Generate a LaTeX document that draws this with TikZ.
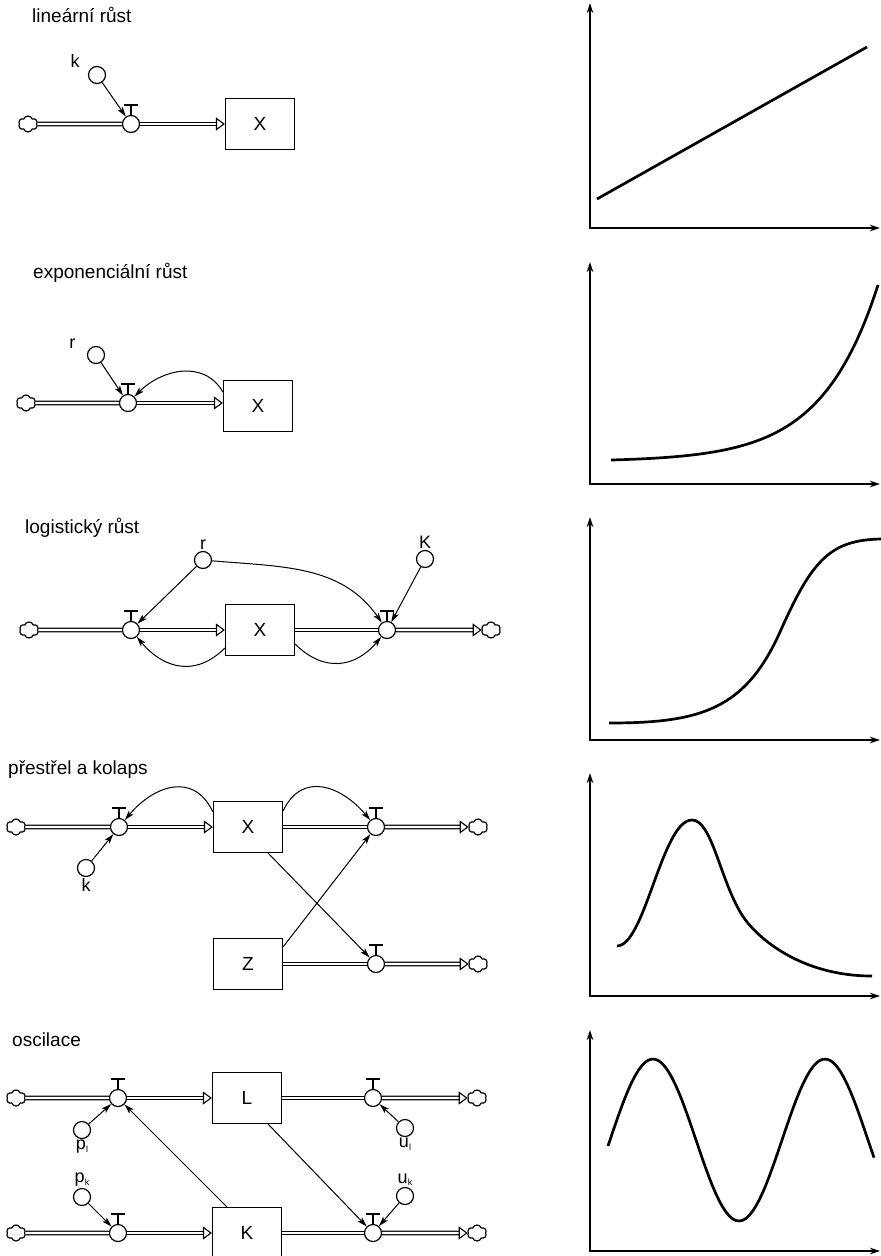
\documentclass[tikz,border=0pt]{standalone}
\usepackage{fontspec}
\setmainfont{Liberation Sans}
\usetikzlibrary{arrows.meta,shapes.symbols}

\tikzset{
  stock/.style={draw,line width=1.2pt,minimum width=69pt,minimum height=51pt,inner sep=0pt,font=\fontsize{19}{21}\selectfont},
  valve/.style={circle,draw,line width=1.2pt,fill=white,minimum size=17pt,inner sep=0pt},
  param/.style={circle,draw,line width=1.2pt,minimum size=17pt,inner sep=0pt,label distance=0pt},
  lab/.style={inner sep=1pt,font=\fontsize{18}{20}\selectfont},
  sky/.style={cloud,cloud puffs=6,cloud puff arc=140,draw,line width=1.2pt,minimum width=19pt,minimum height=16pt,inner sep=0pt},
  pipe/.style={double,double distance=2.4pt,line width=1.1pt},
  pipeto/.style={pipe,-{Triangle[open,length=9pt,width=13pt,line width=1.1pt]}},
  info/.style={line width=1pt,-{Stealth[length=10pt,width=6pt,inset=2.5pt]}},
  heading/.style={anchor=base west,inner sep=0pt,font=\fontsize{19}{21}\selectfont},
  axes/.style={line width=1.2pt,{Stealth[length=10pt,width=6.5pt]}-{Stealth[length=10pt,width=6.5pt]}},
  trend/.style={line width=2.7pt},
}
\newcommand{\sub}[1]{\raisebox{-2.5pt}{\fontsize{9}{9}\selectfont #1}}

\begin{document}
\begin{tikzpicture}[x=1pt,y=-1pt]
\useasboundingbox (0,0) rectangle (881,1256);

% linearni rust
\node[heading] (t1) at (32,22) {lineární růst};
\node[sky] (c11) at (28,124) {};
\node[valve] (v11) at (131,124) {};
\node[stock] (X1) at (260,124) {X};
\node[param,label={[lab,label distance=8pt]160:k}] (k1) at (97,75) {};
\draw[pipe] (c11) -- (v11);
\draw[pipeto] (v11) -- (X1);
\draw[info] (k1) -- (v11);

% exponencialni rust
\node[heading] (t2) at (33,278) {exponenciální růst};
\node[sky] (c21) at (26,403) {};
\node[valve] (v21) at (128,403) {};
\node[stock] (X2) at (258,406) {X};
\node[param,label={[lab,label distance=11pt]165:r}] (r2) at (96,355) {};
\draw[pipe] (c21) -- (v21);
\draw[pipeto] (v21) -- (v21 -| X2.west);
\draw[info] (r2) -- (v21);
\draw[info] ([yshift=14pt]X2.west) to[out=120,in=45,looseness=1.1] (v21);

% logisticky rust
\node[heading] (t3) at (25,533) {logistický růst};
\node[sky] (c31) at (29,630) {};
\node[valve] (v31) at (131,630) {};
\node[stock] (X3) at (260,630) {X};
\node[valve] (v32) at (387,630) {};
\node[sky] (c32) at (491,630) {};
\node[param,label={[lab]above:r}] (r3) at (203,560) {};
\node[param,label={[lab]above:K}] (K3) at (425,559) {};
\draw[pipe] (c31) -- (v31);
\draw[pipeto] (v31) -- (X3);
\draw[pipe] (X3) -- (v32);
\draw[pipeto] (v32) -- (c32);
\draw[info] (r3) -- (v31);
\draw[info] (r3) to[out=-5,in=125] (v32);
\draw[info] (K3) -- (v32);
\draw[info] ([yshift=-18pt]X3.west) to[out=-135,in=-50,looseness=1.2] (v31);
\draw[info] ([yshift=-14pt]X3.east) to[out=-45,in=-130,looseness=1.2] (v32);

% prestrel a kolaps
\node[heading] (t4) at (8,774) {přestřel a kolaps};
\node[sky] (c41) at (16,827) {};
\node[valve] (v41) at (119,827) {};
\node[stock] (X4) at (248,827) {X};
\node[valve] (v42) at (376,827) {};
\node[sky] (c42) at (478,827) {};
\node[param,label={[lab]below:k}] (k4) at (86,868) {};
\node[stock] (Z4) at (248,964) {Z};
\node[valve] (v43) at (376,964) {};
\node[sky] (c43) at (478,964) {};
\draw[pipe] (c41) -- (v41);
\draw[pipeto] (v41) -- (X4);
\draw[pipe] (X4) -- (v42);
\draw[pipeto] (v42) -- (c42);
\draw[pipe] (Z4) -- (v43);
\draw[pipeto] (v43) -- (c43);
\draw[info] (k4) -- (v41);
\draw[info] ([yshift=15pt]X4.west) to[out=115,in=50,looseness=1.3] (v41);
\draw[info] ([yshift=16pt]X4.east) to[out=65,in=130,looseness=1.3] (v42);
\draw[info] ([xshift=-15pt]X4.south east) -- (v43);
\draw[info] ([yshift=-9pt]Z4.north east) -- (v42);

% oscilace
\node[heading] (t5) at (12,1046) {oscilace};
\node[sky] (c51) at (16,1098) {};
\node[valve] (v51) at (118,1098) {};
\node[stock] (L5) at (247,1098) {L};
\node[valve] (v52) at (373,1098) {};
\node[sky] (c52) at (477,1098) {};
\node[sky] (c53) at (16,1233) {};
\node[valve] (v53) at (118,1233) {};
\node[stock] (K5) at (247,1233) {K};
\node[valve] (v54) at (373,1233) {};
\node[sky] (c54) at (477,1233) {};
\node[param,label={[lab]below:p\sub{l}}] (pl) at (82,1130) {};
\node[param,label={[lab]below:u\sub{l}}] (ul) at (405,1128) {};
\node[param,label={[lab]above:p\sub{k}}] (pk) at (82,1197) {};
\node[param,label={[lab]above:u\sub{k}}] (uk) at (405,1196) {};
\draw[pipe] (c51) -- (v51);
\draw[pipeto] (v51) -- (L5);
\draw[pipe] (L5) -- (v52);
\draw[pipeto] (v52) -- (c52);
\draw[pipe] (c53) -- (v53);
\draw[pipeto] (v53) -- (K5);
\draw[pipe] (K5) -- (v54);
\draw[pipeto] (v54) -- (c54);
\draw[info] (pl) -- (v51);
\draw[info] (ul) -- (v52);
\draw[info] (pk) -- (v53);
\draw[info] (uk) -- (v54);
\draw[info] ([xshift=15pt]K5.north west) -- (v51);
\draw[info] ([xshift=-14pt]L5.south east) -- (v54);

% T on the valves
\foreach \v in {v11,v21,v31,v32,v41,v42,v43,v51,v52,v53,v54}
  \draw[line width=1.2pt] (\v.north) -- ++(0,-10) ++(-7,0) -- ++(14,0);

% graphs
\foreach \oy/\ty in {228/3,484/262,740/517,996/773,1251/1030}
  \draw[axes] (590,\ty) -- (590,\oy) -- (880,\oy);
\draw[trend] (597,199) -- (867,47);
\draw[trend] plot[domain=611:878,samples=80] (\x,{460-1.565*(exp(0.0177*(\x-611))-1)});
\draw[trend] (609,723) .. controls (700,723) and (745,710) .. (780,632)
  .. controls (812,560) and (830,540) .. (881,539);
\draw[trend] (617,946) .. controls (645,946) and (662,820) .. (692,820)
  .. controls (712,820) and (720,880) .. (742,915)
  .. controls (756,937) and (800,976) .. (872,976);
\draw[trend] plot[domain=608:874,samples=80] (\x,{1140-81*cos(((\x-653)/172)*360)});
\end{tikzpicture}
\end{document}
